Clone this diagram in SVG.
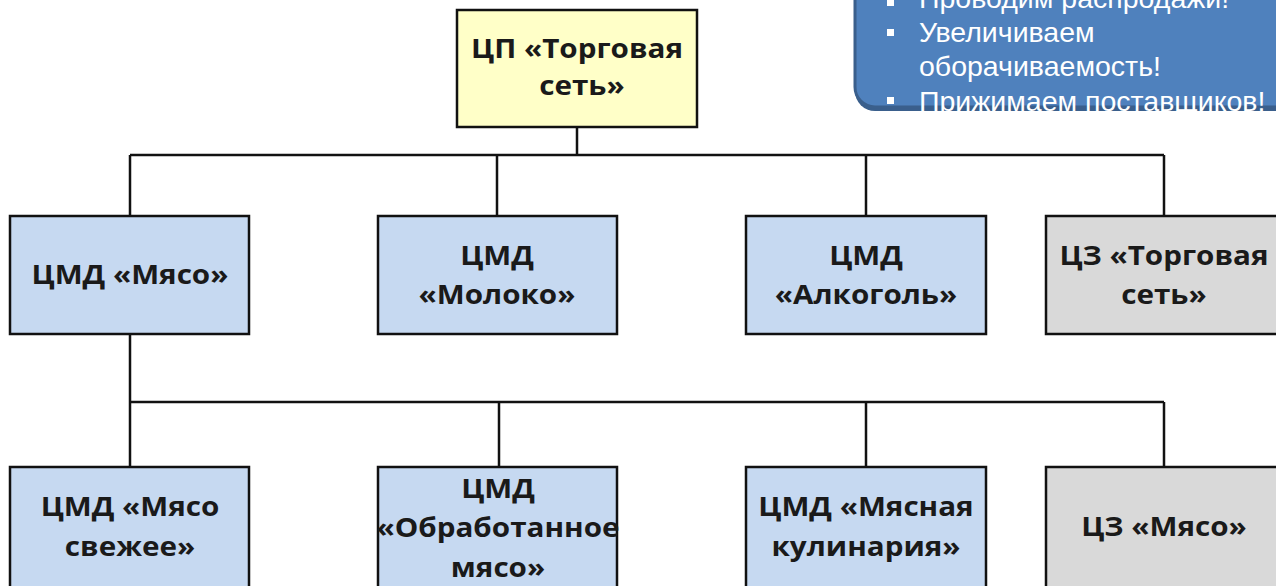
<svg xmlns="http://www.w3.org/2000/svg" width="1276" height="586" viewBox="0 0 1276 586">
<style>
.box{stroke:#111;stroke-width:2.5}
.blue{fill:#C6D9F1}
.yel{fill:#FFFFC8}
.gray{fill:#D9D9D9}
.lbl{font-family:"Open Sans","Liberation Sans",sans-serif;font-weight:700;font-size:26px;fill:#1a1a1a;text-anchor:middle}
.conn{fill:none;stroke:#111;stroke-width:2.5}
.co{font-family:"Liberation Sans",Arial,sans-serif;font-size:28.5px;fill:#fff}
</style>
<rect width="1276" height="586" fill="#fff"/>
<g id="connectors">
<path class="conn" d="M577 127V155M130 155H1164M130 155V216M497 155V216M866 155V216M1164 155V216"/>
<path class="conn" d="M130 334V467M130 402H1164M499 402V467M866 402V467M1164 402V467"/>
</g>
<g id="n-top">
<rect class="box yel" x="457" y="10" width="240" height="117"/>
<text class="lbl" transform="translate(577,58) scale(1.14,1)">ЦП «Торговая</text>
<text class="lbl" transform="translate(582,95) scale(1.14,1)">сеть»</text>
</g>
<g id="n-meat">
<rect class="box blue" x="10" y="216" width="239" height="118"/>
<text class="lbl" transform="translate(130,284) scale(1.14,1)">ЦМД «Мясо»</text>
</g>
<g id="n-milk">
<rect class="box blue" x="378" y="216" width="239" height="118"/>
<text class="lbl" transform="translate(497,265) scale(1.14,1)">ЦМД</text>
<text class="lbl" transform="translate(497,304) scale(1.14,1)">«Молоко»</text>
</g>
<g id="n-alc">
<rect class="box blue" x="746" y="216" width="240" height="118"/>
<text class="lbl" transform="translate(866,265) scale(1.14,1)">ЦМД</text>
<text class="lbl" transform="translate(866,304) scale(1.14,1)">«Алкоголь»</text>
</g>
<g id="n-cz-net">
<rect class="box gray" x="1046" y="216" width="240" height="118"/>
<text class="lbl" transform="translate(1164,265) scale(1.14,1)">ЦЗ «Торговая</text>
<text class="lbl" transform="translate(1164,304) scale(1.14,1)">сеть»</text>
</g>
<g id="n-fresh">
<rect class="box blue" x="10" y="467" width="239" height="130"/>
<text class="lbl" transform="translate(130,516) scale(1.14,1)">ЦМД «Мясо</text>
<text class="lbl" transform="translate(130,556) scale(1.14,1)">свежее»</text>
</g>
<g id="n-processed">
<rect class="box blue" x="378" y="467" width="239" height="130"/>
<text class="lbl" transform="translate(498,498) scale(1.14,1)">ЦМД</text>
<text class="lbl" transform="translate(498,537) scale(1.14,1)">«Обработанное</text>
<text class="lbl" transform="translate(498,577) scale(1.14,1)">мясо»</text>
</g>
<g id="n-culinary">
<rect class="box blue" x="746" y="467" width="240" height="130"/>
<text class="lbl" transform="translate(866,516) scale(1.14,1)">ЦМД «Мясная</text>
<text class="lbl" transform="translate(866,556) scale(1.14,1)">кулинария»</text>
</g>
<g id="n-cz-meat">
<rect class="box gray" x="1046" y="467" width="240" height="130"/>
<text class="lbl" transform="translate(1164,536) scale(1.14,1)">ЦЗ «Мясо»</text>
</g>
<g id="callout">
<rect x="855" y="-40" width="460" height="151" rx="20" fill="#3A5F8C"/>
<rect x="855" y="-40" width="460" height="147" rx="20" fill="#4F81BD" stroke="#3A5F8C" stroke-width="3"/>
<rect x="887" y="-1" width="7" height="7" fill="#fff"/>
<rect x="887" y="29" width="7" height="7" fill="#fff"/>
<rect x="887" y="97" width="7" height="7" fill="#fff"/>
<text class="co" x="919" y="8">Проводим распродажи!</text>
<text class="co" x="919" y="42">Увеличиваем</text>
<text class="co" x="919" y="76">оборачиваемость!</text>
<text class="co" x="919" y="111">Прижимаем поставщиков!</text>
</g>
</svg>
